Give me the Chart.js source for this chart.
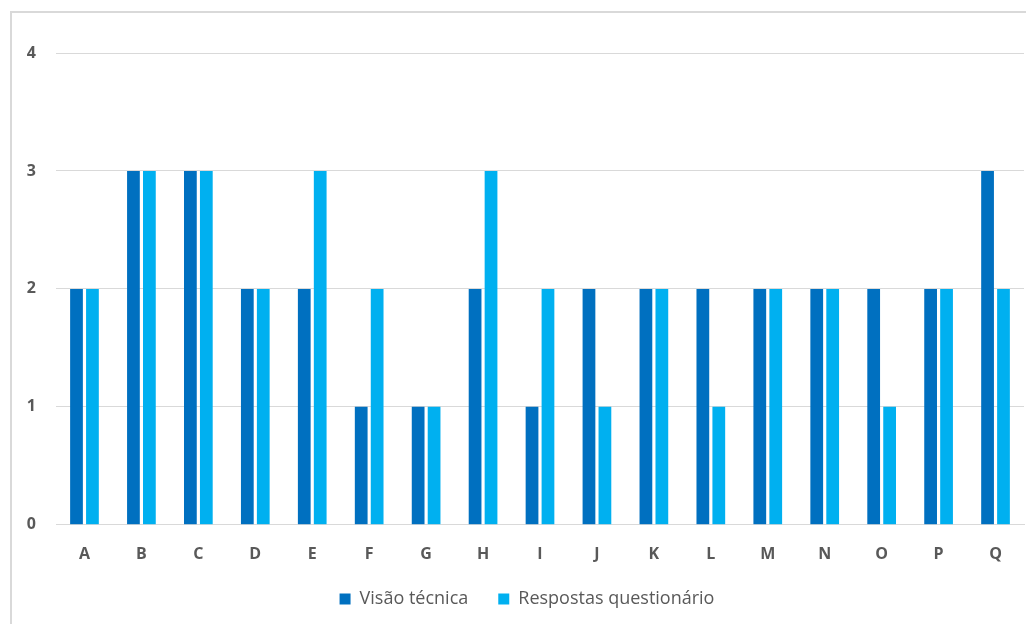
<!DOCTYPE html>
<html>
<head>
<meta charset="utf-8">
<script src="https://cdn.jsdelivr.net/npm/chart.js@4"></script>
<style>
  html, body { margin:0; padding:0; background:#fff; }
  .frame { position:absolute; left:10px; top:11px; width:1030px; height:630px; border:2px solid #d9d9d9; box-sizing:border-box; }
  .wrap { position:absolute; left:0; top:0; width:1026px; height:624px; }
</style>
</head>
<body>
<div class="frame"></div>
<div class="wrap"><canvas id="chart"></canvas></div>
<script>
const categories = ["A","B","C","D","E","F","G","H","I","J","K","L","M","N","O","P","Q"];
const visaoTecnica = [2,3,3,2,2,1,1,2,1,2,2,2,2,2,2,2,3];
const respostas    = [2,3,3,2,3,2,1,3,2,1,2,1,2,2,1,2,2];
const yTicks = [0,1,2,3,4];

const tickFont = { family: "'Open Sans', 'Noto Sans', sans-serif", size: 16, weight: "bold" };
const legendPad = 30;   // horizontal gap between legend items
const legendVPad = 14;  // vertical padding actually wanted

// legend.labels.padding drives both gaps; keep the wide one and trim the height back
const tightLegend = {
  id: "tightLegend",
  afterInit(chart) {
    const lg = chart.legend;
    const fit = lg.fit;
    const shift = legendPad - legendVPad;
    lg.fit = function () {
      fit.call(this);
      this.height -= shift;
    };
    lg.draw = function () {
      if (!this.options.display) return;
      const ctx = this.ctx;
      ctx.save();
      ctx.translate(15, -shift);
      this._draw();
      ctx.restore();
    };
  }
};

new Chart(document.getElementById("chart"), {
  type: "bar",
  data: {
    labels: categories,
    datasets: [
      { label: "Visão técnica", data: visaoTecnica, backgroundColor: "#0070C0",
        categoryPercentage: 0.56, barPercentage: 0.8 },
      { label: "Respostas questionário", data: respostas, backgroundColor: "#00B0F0",
        categoryPercentage: 0.56, barPercentage: 0.8 }
    ]
  },
  plugins: [tightLegend],
  options: {
    responsive: true,
    maintainAspectRatio: false,
    animation: false,
    layout: { padding: { top: 53, right: 2, left: 0, bottom: 6 } },
    plugins: {
      tooltip: { enabled: false },
      legend: {
        position: "bottom",
        labels: {
          color: "#595959",
          boxWidth: 11, boxHeight: 11,
          padding: legendPad,
          font: { family: "'Open Sans', 'Noto Sans', sans-serif", size: 18 }
        }
      }
    },
    scales: {
      x: {
        grid: { display: false },
        border: { color: "#d9d9d9", width: 1 },
        ticks: { color: "#595959", font: tickFont, padding: 12 }
      },
      y: {
        min: 0, max: 4,
        afterFit: s => { s.width = 56; },
        afterBuildTicks: s => { s.ticks = yTicks.map(v => ({ value: v })); },
        grid: { color: "#d9d9d9", drawTicks: false },
        border: { display: false },
        ticks: { color: "#595959", font: tickFont, padding: 20 }
      }
    }
  }
});
</script>
</body>
</html>
